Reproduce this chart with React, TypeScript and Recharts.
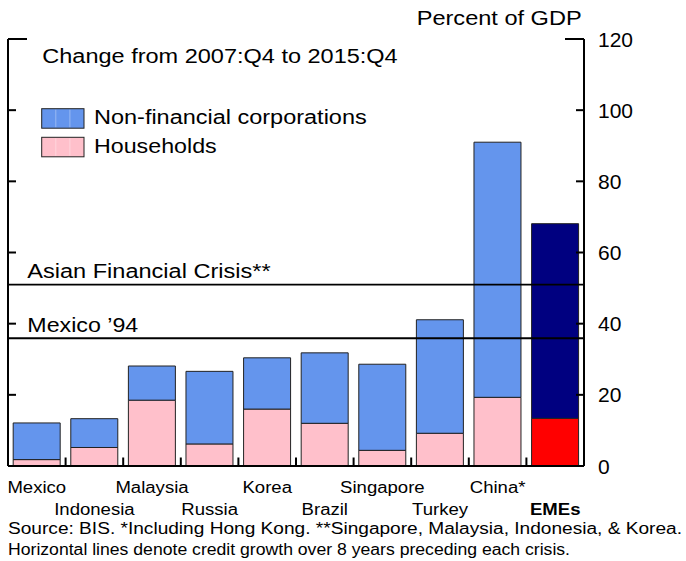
import { BarChart, Bar, XAxis, YAxis, ReferenceLine, Cell } from 'recharts';

// change in credit, % of GDP, 2007:Q4 -> 2015:Q4
const categories = ['Mexico', 'Indonesia', 'Malaysia', 'Russia', 'Korea', 'Brazil', 'Singapore', 'Turkey', 'China*', 'EMEs'];
const households = [1.8, 5.2, 18.5, 6.2, 16.0, 12.0, 4.4, 9.2, 19.3, 13.4];
const nonFinancial = [10.3, 8.1, 9.6, 20.4, 14.4, 19.8, 24.2, 31.9, 71.7, 54.7];
const yTicks = [0, 20, 40, 60, 80, 100, 120];
const crisisNames = ['Asian Financial Crisis**', 'Mexico \u201994'];
const crisisLevels = [51.0, 35.9];
const seriesNames = ['Non-financial corporations', 'Households'];
const footnotes = [
  'Source: BIS. *Including Hong Kong. **Singapore, Malaysia, Indonesia, & Korea.',
  'Horizontal lines denote credit growth over 8 years preceding each crisis.',
];

const FONT = '"Liberation Sans", Arial, Helvetica, sans-serif';
const BLUE = '#6495ed';
const PINK = '#ffc0cb';
const NAVY = '#000080';
const RED = '#ff0000';
const PLOT_LEFT = 8; // left frame line, = chart margin.left + left axis width

const data = categories.map((name, i) => ({
  name,
  households: households[i],
  nonFinancial: nonFinancial[i],
}));
const lastIdx = categories.length - 1;

function XTick(props: any) {
  const { x, y, payload, index } = props;
  const half = payload && payload.offset ? payload.offset : 28.8;
  const last = index === lastIdx;
  return (
    <g>
      {!last && <line x1={x + half} x2={x + half} y1={y} y2={y - 8.5} stroke="#000" strokeWidth={2} />}
      <g transform={`translate(${x},${y + (index % 2 ? 49 : 27.3)}) scale(1.16,1)`}>
        <text x={0} y={0} textAnchor="middle" fontSize={16} fontFamily={FONT} fontWeight={last ? 700 : 400} fill="#000">
          {payload.value}
        </text>
      </g>
    </g>
  );
}

// right-axis tick: label + inward mark on the right frame, plus the matching mark on the left frame
function RightTick(props: any) {
  const { x, y, payload } = props;
  const len = payload.value === 120 ? 19 : 8;
  return (
    <g>
      {payload.value !== 0 && (
        <>
          <line x1={x - 14 - len} x2={x - 14} y1={y} y2={y} stroke="#000" strokeWidth={2} />
          <line x1={PLOT_LEFT} x2={PLOT_LEFT + len} y1={y} y2={y} stroke="#000" strokeWidth={2} />
        </>
      )}
      <text x={x} y={y + 7.5} fontSize={21} fontFamily={FONT} fill="#000">{payload.value}</text>
    </g>
  );
}

function FitText({ x, y, w, size, children }: any) {
  return (
    <text x={x} y={y} textLength={w} lengthAdjust="spacingAndGlyphs" fontSize={size} fontFamily={FONT} fill="#000">
      {children}
    </text>
  );
}

function crisisLabel(text: string, w: number) {
  return (p: any) => {
    const vb = p.viewBox || {};
    return <FitText x={vb.x + 19.3} y={vb.y - 6.5} w={w} size={20}>{text}</FitText>;
  };
}
const crisisWidths = [243.3, 111];

function Swatch({ y, fill }: any) {
  return (
    <g>
      <rect x={41.7} y={y} width={42.3} height={19.5} fill={fill} stroke="#222" strokeWidth={1} />
      <line x1={55.8} x2={55.8} y1={y + 1} y2={y + 18.5} stroke="#fff" strokeOpacity={0.35} />
      <line x1={69.9} x2={69.9} y1={y + 1} y2={y + 18.5} stroke="#fff" strokeOpacity={0.35} />
    </g>
  );
}

export default function App() {
  return (
    <div style={{ position: 'absolute', left: 0, top: 0, width: 686, height: 561, background: '#fff' }}>
      <BarChart
        width={686}
        height={561}
        data={data}
        margin={{ top: 39, right: 42, bottom: 65, left: 0 }}
        barCategoryGap="9%"
      >
        <XAxis
          dataKey="name"
          interval={0}
          height={30}
          tickSize={0}
          tickMargin={0}
          tickLine={false}
          axisLine={{ stroke: '#000', strokeWidth: 2 }}
          tick={<XTick />}
        />
        <YAxis
          yAxisId="r"
          orientation="right"
          domain={[0, 120]}
          ticks={yTicks}
          interval={0}
          width={60}
          tickSize={0}
          tickMargin={14}
          tickLine={false}
          axisLine={{ stroke: '#000', strokeWidth: 2 }}
          tick={<RightTick />}
        />
        <YAxis
          yAxisId="l"
          orientation="left"
          domain={[0, 120]}
          width={PLOT_LEFT}
          tick={false}
          tickLine={false}
          axisLine={{ stroke: '#000', strokeWidth: 2 }}
        />
        {crisisLevels.map((v, i) => (
          <ReferenceLine
            key={crisisNames[i]}
            yAxisId="r"
            y={v}
            stroke="#000"
            strokeWidth={1.8}
            label={crisisLabel(crisisNames[i], crisisWidths[i])}
          />
        ))}
        <Bar dataKey="households" stackId="a" yAxisId="r" fill={PINK} stroke="#222" strokeWidth={1} isAnimationActive={false}>
          {data.map((d, i) => (
            <Cell key={d.name} fill={i === lastIdx ? RED : PINK} />
          ))}
        </Bar>
        <Bar dataKey="nonFinancial" stackId="a" yAxisId="r" fill={BLUE} stroke="#222" strokeWidth={1} isAnimationActive={false}>
          {data.map((d, i) => (
            <Cell key={d.name} fill={i === lastIdx ? NAVY : BLUE} />
          ))}
        </Bar>
      </BarChart>
      <svg width={686} height={561} style={{ position: 'absolute', left: 0, top: 0, pointerEvents: 'none' }}>
        <FitText x={416.7} y={25} w={165} size={19.5}>Percent of GDP</FitText>
        <FitText x={42.3} y={63.3} w={355.4} size={19.5}>Change from 2007:Q4 to 2015:Q4</FitText>
        <Swatch y={108.7} fill={BLUE} />
        <Swatch y={137.3} fill={PINK} />
        <FitText x={94} y={124} w={272.7} size={19.5}>{seriesNames[0]}</FitText>
        <FitText x={94} y={152.7} w={122.7} size={19.5}>{seriesNames[1]}</FitText>
        <FitText x={8} y={534.3} w={674} size={16}>{footnotes[0]}</FitText>
        <FitText x={8} y={555} w={562} size={16}>{footnotes[1]}</FitText>
      </svg>
    </div>
  );
}
